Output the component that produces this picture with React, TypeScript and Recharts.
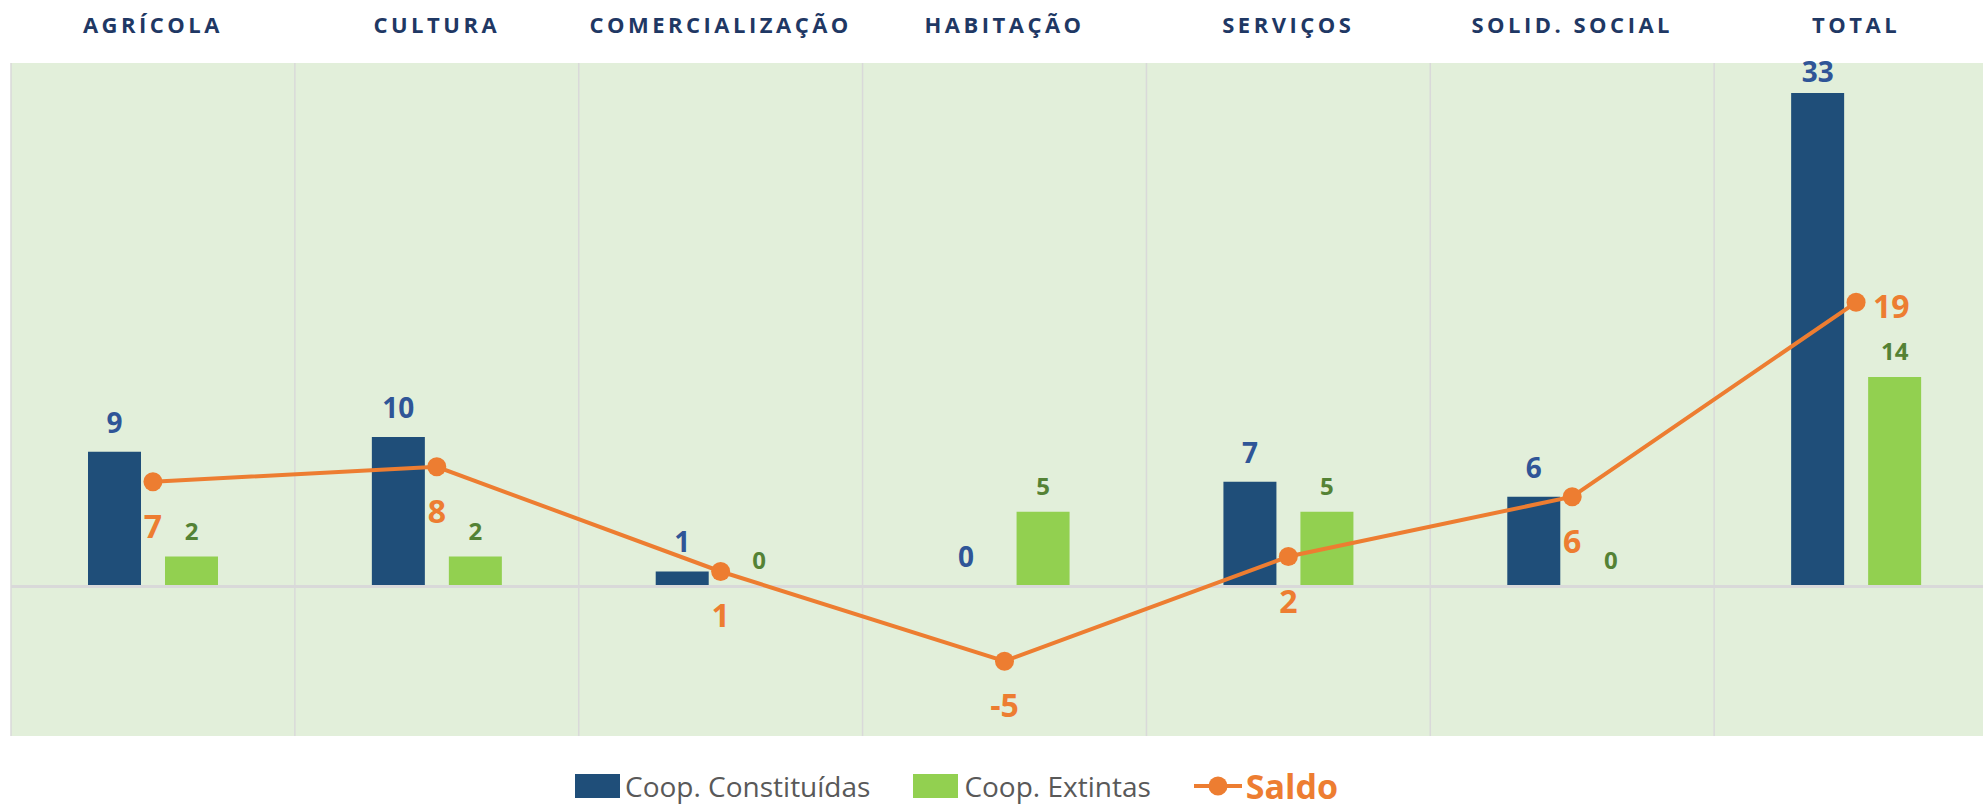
import React from 'react'
import {
  ComposedChart,
  Bar,
  Line,
  XAxis,
  YAxis,
  CartesianGrid,
  ReferenceLine,
  LabelList,
} from 'recharts'

const categories = [
  'AGRÍCOLA',
  'CULTURA',
  'COMERCIALIZAÇÃO',
  'HABITAÇÃO',
  'SERVIÇOS',
  'SOLID. SOCIAL',
  'TOTAL',
]
const constituidas = [9, 10, 1, 0, 7, 6, 33]
const extintas = [2, 2, 0, 5, 5, 0, 14]
const saldo = [7, 8, 1, -5, 2, 6, 19]

const BLUE = '#1F4E79'
const GREEN = '#92D050'
const ORANGE = '#ED7D31'
const FONT = '"Open Sans", "Noto Sans", sans-serif'

const data = categories.map((name, i) => ({
  name,
  constituidas: constituidas[i],
  extintas: extintas[i],
  saldo: saldo[i],
}))

function pos(props: any) {
  const vb = props.viewBox || {}
  return {
    x: vb.x ?? props.x,
    y: vb.y ?? props.y,
    width: vb.width ?? props.width ?? 0,
    height: vb.height ?? props.height ?? 0,
  }
}

function CategoryTick(props: any) {
  const { x, payload } = props
  return (
    <text
      x={x}
      y={33}
      textAnchor="middle"
      fill="#1F3864"
      fontFamily={FONT}
      fontWeight={700}
      fontSize={22}
      letterSpacing={3.5}
    >
      {payload.value}
    </text>
  )
}

function BlueLabel(props: any) {
  const { x, y, width, height } = pos(props)
  // bar top (zero bars get a tiny min size so their label still shows)
  const top = Math.min(y, y + height)
  return (
    <text
      x={x + width / 2}
      y={Math.max(top - 19, 82)}
      textAnchor="middle"
      fill="#2F5597"
      fontFamily={FONT}
      fontWeight={700}
      fontSize={28}
    >
      {props.value}
    </text>
  )
}

function GreenLabel(props: any) {
  const { x, y, width, height } = pos(props)
  const top = Math.min(y, y + height)
  return (
    <text
      x={x + width / 2}
      y={top - 17}
      textAnchor="middle"
      fill="#548235"
      fontFamily={FONT}
      fontWeight={700}
      fontSize={24}
    >
      {props.value}
    </text>
  )
}

function SaldoLabel(props: any) {
  const { x, y } = pos(props)
  const last = props.index === categories.length - 1
  return (
    <text
      x={last ? x + 17 : x}
      y={last ? y + 16 : y + 56}
      textAnchor={last ? 'start' : 'middle'}
      fill={ORANGE}
      fontFamily={FONT}
      fontWeight={700}
      fontSize={32}
    >
      {props.value}
    </text>
  )
}

function ChartLegend() {
  const text = { fontFamily: FONT, fontSize: 28, color: '#595959', lineHeight: 'normal' }
  return (
    <div
      style={{
        position: 'absolute',
        left: 575,
        top: 768,
        height: 36,
        display: 'flex',
        alignItems: 'center',
        whiteSpace: 'nowrap',
      }}
    >
      <span style={{ width: 45, height: 24, background: BLUE, marginRight: 5 }} />
      <span style={text}>Coop. Constituídas</span>
      <span style={{ width: 45, height: 24, background: GREEN, marginLeft: 43, marginRight: 6 }} />
      <span style={text}>Coop. Extintas</span>
      <svg width={48} height={24} style={{ marginLeft: 43, marginRight: 4 }}>
        <line x1={0} y1={12} x2={48} y2={12} stroke={ORANGE} strokeWidth={4} />
        <circle cx={24} cy={12} r={9.5} fill={ORANGE} />
      </svg>
      <span style={{ ...text, color: ORANGE, fontWeight: 700, fontSize: 34 }}>Saldo</span>
    </div>
  )
}

export default function App() {
  return (
    <div
      style={{
        position: 'absolute',
        left: 0,
        top: 0,
        width: 1983,
        height: 810,
        overflow: 'hidden',
        background: '#fff',
      }}
    >
      <ComposedChart
        width={1998}
        height={810}
        data={data}
        margin={{ top: 0, right: 0, left: 11, bottom: 74 }}
        barGap={24}
        barCategoryGap="27%"
      >
        <CartesianGrid
          horizontal={false}
          vertical
          fill="#E2EFDA"
          fillOpacity={1}
          stroke="#D9D9D9"
          strokeWidth={1.5}
          verticalCoordinatesGenerator={({ offset }: any) =>
            Array.from({ length: 8 }, (_, i) => offset.left + (i * offset.width) / 7)
          }
        />
        <XAxis
          dataKey="name"
          orientation="top"
          height={63}
          axisLine={false}
          tickLine={false}
          interval={0}
          tick={<CategoryTick />}
        />
        <YAxis hide domain={[-10, 35]} />
        <ReferenceLine y={0} stroke="#D9D9D9" strokeWidth={3} />
        <Bar
          dataKey="constituidas"
          fill={BLUE}
          barSize={53}
          minPointSize={0.01}
          isAnimationActive={false}
        >
          <LabelList dataKey="constituidas" content={<BlueLabel />} />
        </Bar>
        <Bar
          dataKey="extintas"
          fill={GREEN}
          barSize={53}
          minPointSize={0.01}
          isAnimationActive={false}
        >
          <LabelList dataKey="extintas" content={<GreenLabel />} />
        </Bar>
        <Line
          dataKey="saldo"
          stroke={ORANGE}
          strokeWidth={4}
          dot={{ r: 9.5, fill: ORANGE, stroke: ORANGE, strokeWidth: 0 }}
          activeDot={false}
          isAnimationActive={false}
        >
          <LabelList dataKey="saldo" content={<SaldoLabel />} />
        </Line>
      </ComposedChart>
      <ChartLegend />
    </div>
  )
}
